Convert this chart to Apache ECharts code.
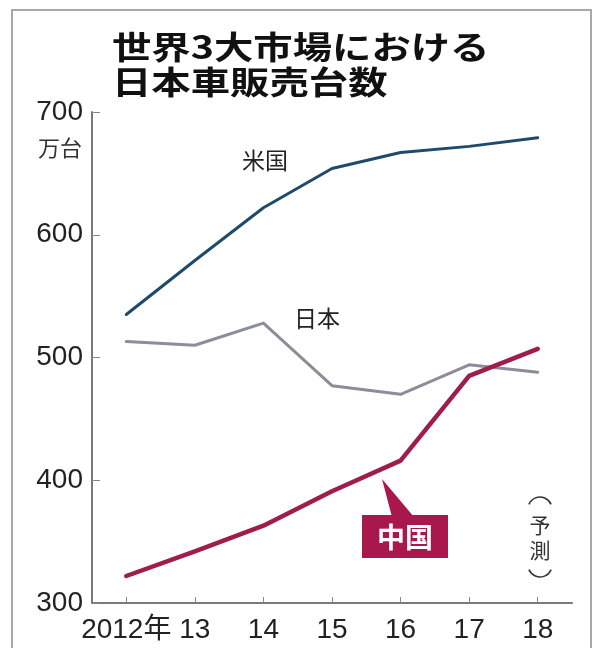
<!DOCTYPE html>
<html>
<head>
<meta charset="utf-8">
<script src="https://cdn.jsdelivr.net/npm/echarts@6/dist/echarts.min.js"></script>
<style>html,body{margin:0;padding:0;background:#fff}#c{width:600px;height:648px}</style>
</head>
<body>
<div id="c"></div>
<script>
const years = ['2012年', '13', '14', '15', '16', '17', '18'];
const usa = [535, 579, 622, 654, 667, 672, 679];
const japan = [513, 510, 528, 477, 470, 494, 488];
const china = [322, 342, 363, 391, 416, 485, 507];
const yTicks = { min: 300, max: 700, step: 100 };

const numFont = 'Liberation Sans, Arial, Noto Sans CJK JP, sans-serif';
const jpFont = 'Noto Sans CJK JP, sans-serif';

function txt(x, y, text, font, fill, align, extra) {
  return Object.assign({
    type: 'text', x: x, y: y, z: 100,
    style: { text: text, font: font, fill: fill, textAlign: align, align: align,
             textVerticalAlign: 'middle', verticalAlign: 'middle' }
  }, extra || {});
}

const chart = echarts.init(document.getElementById('c'));
chart.setOption({
  backgroundColor: '#ffffff',
  animation: false,
  grid: { left: 92, right: 28, top: 112, bottom: 45, containLabel: false },
  xAxis: {
    type: 'category', data: years, boundaryGap: true,
    axisLine: { lineStyle: { color: '#7a7a7a', width: 2 } },
    axisTick: { show: true, alignWithLabel: true, inside: true, length: 6, lineStyle: { color: '#888', width: 1 } },
    axisLabel: { interval: 0, fontSize: 28, color: '#222', margin: 13, fontFamily: numFont }
  },
  yAxis: {
    type: 'value', min: yTicks.min, max: yTicks.max, interval: yTicks.step,
    axisLine: { show: true, lineStyle: { color: '#7a7a7a', width: 2 } },
    axisTick: { show: true, inside: true, length: 8, lineStyle: { color: '#888', width: 1 } },
    splitLine: { show: false },
    axisLabel: { fontSize: 28, color: '#222', margin: 9, fontFamily: numFont }
  },
  series: [
    { name: '日本', type: 'line', data: japan, symbol: 'none', z: 2,
      lineStyle: { color: '#8b8e98', width: 3, cap: 'round', join: 'round' } },
    { name: '米国', type: 'line', data: usa, symbol: 'none', z: 3,
      lineStyle: { color: '#1f4a6b', width: 3, cap: 'round', join: 'round' } },
    { name: '中国', type: 'line', data: china, symbol: 'none', z: 4,
      lineStyle: { color: '#9e1d4b', width: 4.5, cap: 'round', join: 'round' } }
  ],
  graphic: [
    { type: 'rect', z: 0, shape: { x: 12, y: 10, width: 579, height: 680 },
      style: { fill: 'none', stroke: '#a8a8a8', lineWidth: 2 } },
    txt(112, 47, '世界3大市場における', 'bold 32px ' + jpFont, '#111', 'left', { scaleX: 1.23 }),
    txt(112, 82, '日本車販売台数', 'bold 32px ' + jpFont, '#111', 'left', { scaleX: 1.23 }),
    txt(82, 148, '万台', '22px ' + jpFont, '#333', 'right'),
    txt(265, 160, '米国', '23px ' + jpFont, '#222', 'center'),
    txt(317, 318, '日本', '23px ' + jpFont, '#222', 'center'),
    { type: 'polygon', z: 99, shape: { points: [[382, 479], [392, 517], [414, 517]] },
      style: { fill: '#a8184c' } },
    { type: 'rect', z: 99, shape: { x: 362, y: 515, width: 86, height: 43 },
      style: { fill: '#a8184c' } },
    txt(405, 537, '中国', 'bold 28px ' + jpFont, '#ffffff', 'center'),
    { type: 'arc', z: 100, shape: { cx: 540, cy: 509, r: 12, startAngle: Math.PI + 0.4, endAngle: 2 * Math.PI - 0.4 },
      style: { fill: 'none', stroke: '#333', lineWidth: 1.6 } },
    txt(540, 525, '予', '21px ' + jpFont, '#333', 'center'),
    txt(540, 550, '測', '21px ' + jpFont, '#333', 'center'),
    { type: 'arc', z: 100, shape: { cx: 540, cy: 565, r: 12, startAngle: 0.4, endAngle: Math.PI - 0.4 },
      style: { fill: 'none', stroke: '#333', lineWidth: 1.6 } }
  ]
});
</script>
</body>
</html>
